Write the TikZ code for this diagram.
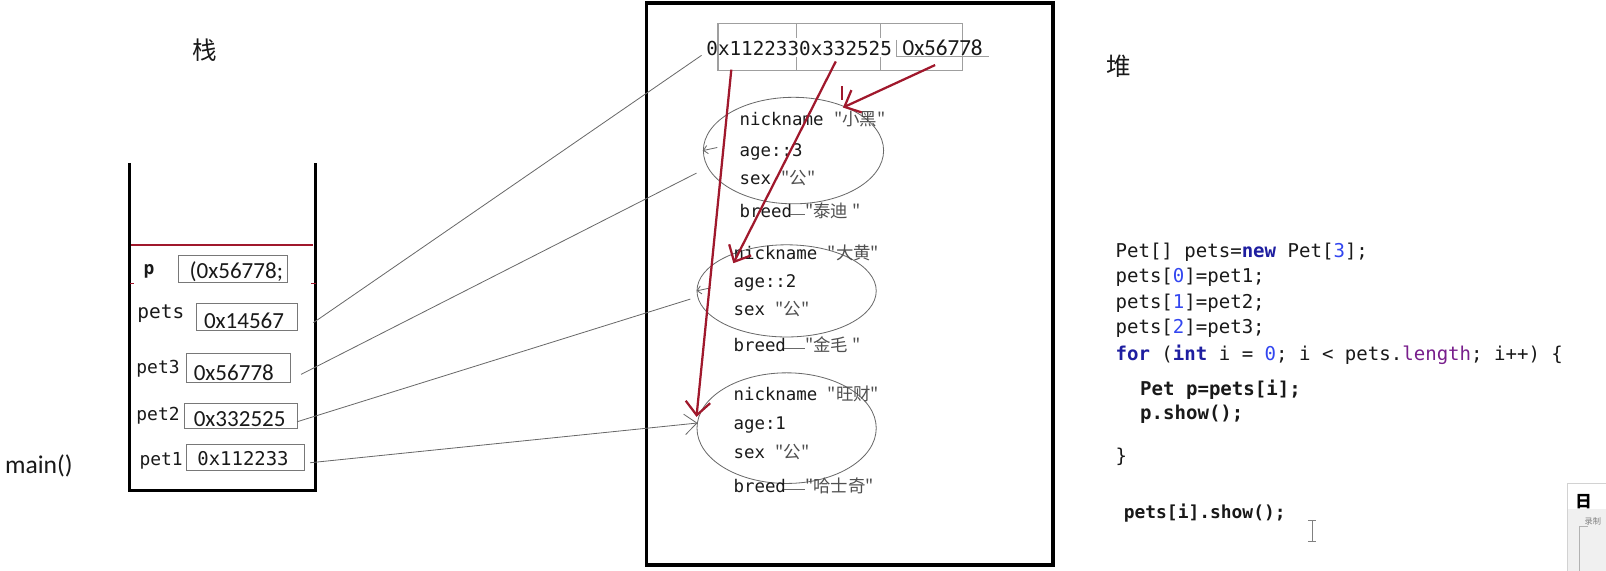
\documentclass[tikz,border=0pt]{standalone}
\usepackage{fontspec}
\setmainfont{Carlito}
\newfontfamily\monof{DejaVu Sans Mono}
\newfontfamily\cjk{Noto Sans CJK SC}
\usetikzlibrary{arrows.meta,shapes.geometric}
\definecolor{arrred}{RGB}{160,24,44}
\definecolor{kwblue}{RGB}{30,30,160}
\definecolor{numblue}{RGB}{50,70,240}
\definecolor{lenpurple}{RGB}{120,30,140}
\definecolor{lgray}{RGB}{105,105,105}
\definecolor{cellgray}{RGB}{120,120,120}
\definecolor{txtdark}{RGB}{25,25,25}
\definecolor{cjkgray}{RGB}{80,80,80}
\tikzset{
  wall/.style={line width=3pt, black},
  cell/.style={draw=cellgray, line width=1pt, inner sep=0pt},
  stk/.style={font=\monof\fontsize{17.5}{17.5}\selectfont, inner sep=0pt, anchor=base west, text=txtdark},
  valsans/.style={font=\fontsize{22.5}{22.5}\selectfont, inner sep=0pt, anchor=base west, text=txtdark},
  valmono/.style={font=\monof\fontsize{18.5}{18.5}\selectfont, inner sep=0pt, anchor=base west, text=txtdark},
  gline/.style={draw=lgray, line width=0.8pt},
  redarr/.style={draw=arrred, line width=2.2pt, -{Straight Barb[length=13pt,width=24pt,line width=2.2pt]}},
  ell/.style={ellipse, draw=lgray, line width=0.8pt, inner sep=0pt},
  htxt/.style={font=\monof\fontsize{17}{17}\selectfont, inner sep=0pt, anchor=base west, text=txtdark},
  code/.style={font=\monof\fontsize{18.6}{18.6}\selectfont, inner sep=0pt, anchor=base west, text=txtdark},
  arrline/.style={draw=gray!75, line width=1.1pt},
  bigcjk/.style={font=\cjk\fontsize{24}{24}\selectfont, inner sep=0pt, text=txtdark},
}
\begin{document}
\begin{tikzpicture}[x=1pt,y=-1pt]
\useasboundingbox (0,0) rectangle (1568,557);

% ---------- titles ----------
\node[bigcjk] (tstack) at (200,49) {栈};
\node[bigcjk] (theap) at (1092,65) {堆};
\node[font=\fontsize{25}{25}\selectfont, inner sep=0pt, text=txtdark] (tmain) at (38,455) {main()};

% ---------- stack ----------
\draw[wall] (126,159) -- (126,479) -- (308,479) -- (308,159);
\draw[arrred, line width=1.5pt] (128,239) -- (306,239);
\draw[arrred, line width=1.5pt] (127,277) -- (131,277) (304,277) -- (309,277);

\node[stk, font=\monof\bfseries\fontsize{17.5}{17.5}\selectfont] (lp) at (140,268) {p};
\node[stk, font=\monof\fontsize{19}{19}\selectfont] (lpets) at (134,311) {pets};
\node[stk] (lpet3) at (133,364.5) {pet3};
\node[stk] (lpet2) at (133,411) {pet2};
\node[stk] (lpet1) at (136,454) {pet1};

\node[cell, minimum width=107pt, minimum height=27pt] (bp) at (227.5,262.5) {};
\node[cell, minimum width=98pt, minimum height=27pt] (bpets) at (241,309.5) {};
\node[cell, minimum width=102pt, minimum height=28pt] (bpet3) at (233,359) {};
\node[cell, minimum width=110pt, minimum height=24pt] (bpet2) at (235,406) {};
\node[cell, minimum width=115pt, minimum height=24.5pt] (bpet1) at (239.5,446.7) {};

\begin{scope}
\clip (174,240) rectangle (281,285);
\node[valsans] (vp) at (185,271.5) {(0x56778;};
\end{scope}
\node[valsans] (vpets) at (199,321) {0x14567};
\node[valsans] (vpet3) at (189,371.5) {0x56778};
\node[valsans] (vpet2) at (189,416.5) {0x332525};
\node[valmono] (vpet1) at (192.5,454) {0x112233};

% ---------- heap ----------
\node[draw, line width=3.5pt, minimum width=397pt, minimum height=549pt, inner sep=0pt] (heap) at (829.5,277.2) {};

% array
\node[draw=gray!75, line width=1.1pt, minimum width=239pt, minimum height=46pt, inner sep=0pt] (arr) at (820.5,46) {};
\draw[arrline] (778,23) -- (778,37) (778,56) -- (778,69);
\draw[arrline] (860,23) -- (860,37) (860,56) -- (860,69);
\node[font=\monof\fontsize{18.8}{18.8}\selectfont, inner sep=0pt, anchor=base west, text=txtdark] (a12) at (689.5,53.7) {0x1122330x332525};
\node[valsans] (a3) at (881,53.7) {0x56778};
\draw[arrline] (875,39) |- (966,55);

% ellipses
\node[ell, minimum width=176pt, minimum height=104pt] (e1) at (774.7,147) {};
\node[ell, minimum width=175pt, minimum height=90pt] (e2) at (768,284) {};
\node[ell, minimum width=175pt, minimum height=108pt] (e3) at (768,418) {};

% object 1
\node[htxt] (n1) at (722,123) {nickname {\cjk\color{cjkgray}"小黑"}};
\node[htxt] (g1) at (722,152.5) {age::3};
\node[htxt] (s1) at (722,180) {sex {\cjk\color{cjkgray}"公"}};
\node[htxt] (bk1) at (722,212.5) {breed};
\node[htxt, font=\cjk\fontsize{17}{17}\selectfont, text=cjkgray] (bv1) at (786,212.5) {"泰迪 "};
% object 2
\node[htxt] (n2) at (716,253) {nickname {\cjk\color{cjkgray}"大黄"}};
\node[htxt] (g2) at (716,280.5) {age::2};
\node[htxt] (s2) at (716,308.5) {sex {\cjk\color{cjkgray}"公"}};
\node[htxt] (bk2) at (716,343) {breed};
\node[htxt, font=\cjk\fontsize{17}{17}\selectfont, text=cjkgray] (bv2) at (786,343) {"金毛 "};
% object 3
\node[htxt] (n3) at (716,391.5) {nickname {\cjk\color{cjkgray}"旺财"}};
\node[htxt] (g3) at (716,419.5) {age:1};
\node[htxt] (s3) at (716,448) {sex {\cjk\color{cjkgray}"公"}};
\node[htxt] (bk3) at (716,481) {breed};
\node[htxt, font=\cjk\fontsize{17}{17}\selectfont, text=cjkgray] (bv3) at (786,481) {"哈士奇"};

\draw[gline] ([xshift=-2pt,yshift=3pt]bk1.base east) -- ([yshift=3pt]bv1.base west);
\draw[gline] ([xshift=-2pt,yshift=3pt]bk2.base east) -- ([yshift=3pt]bv2.base west);
\draw[gline] ([xshift=-2pt,yshift=3pt]bk3.base east) -- ([yshift=3pt]bv3.base west);

% small marks on ellipses
\draw[gline, {Straight Barb[length=4pt,width=8pt]}-] (e1.west) -- ++(14,-3);
\draw[gline, {Straight Barb[length=4pt,width=8pt]}-] (e2.west) -- ++(14,-3);

% ---------- connectors stack -> heap ----------
\coordinate (spets) at (306,315);
\coordinate (spet3) at (294,365.5);
\coordinate (spet2) at (290,411.8);
\coordinate (spet1) at (302.7,451.8);
\coordinate (harr) at (685,54);
\coordinate (he1) at (680,169);
\coordinate (he2) at (674,292);
\coordinate (he3) at (681,413);
\draw[gline] (spets) -- (harr);
\draw[gline] (spet3) -- (he1);
\draw[gline] (spet2) -- (he2);
\draw[gline, -{Straight Barb[length=12pt,width=20pt]}] (spet1) -- (he3);

% ---------- red arrows array -> objects ----------
\coordinate (r1s) at (714,68);
\coordinate (r2s) at (816,60);
\coordinate (r3s) at (913,63.5);
\coordinate (r1e) at (680,407);
\coordinate (r2e) at (716,257);
\coordinate (r3e) at (823,105);
\draw[redarr] (r1s) -- (r1e);
\draw[redarr] (r2s) -- (r2e);
\draw[redarr] (r3s) -- (r3e);
\draw[arrred, line width=2pt] (822,84) -- (822,98);

% ---------- code ----------
\node[code] (c1) at (1089,251) {Pet[] pets=\textcolor{kwblue}{\bfseries new} Pet[\textcolor{numblue}{3}];};
\node[code] (c2) at (1089,276) {pets[\textcolor{numblue}{0}]=pet1;};
\node[code] (c3) at (1089,301) {pets[\textcolor{numblue}{1}]=pet2;};
\node[code] (c4) at (1089,326) {pets[\textcolor{numblue}{2}]=pet3;};
\node[code] (c5) at (1089,351.5) {\textcolor{kwblue}{\bfseries for} (\textcolor{kwblue}{\bfseries int} i = \textcolor{numblue}{0}; i < pets.\textcolor{lenpurple}{length}; i++) \{};
\node[code, font=\monof\bfseries\fontsize{18.6}{18.6}\selectfont] (c6) at (1113,385.7) {Pet p=pets[i];};
\node[code, font=\monof\bfseries\fontsize{18.6}{18.6}\selectfont] (c7) at (1113,410) {p.show();};
\node[code] (c8) at (1089,452) {\}};
\node[code, font=\monof\bfseries\fontsize{17.5}{17.5}\selectfont] (c9) at (1097,506) {pets[i].show();};

% text cursor
\draw[gray, line width=1pt] (1281,508) -- (1281,529) (1277,508) -- (1285,508) (1277,529) -- (1285,529);

% ---------- window fragment ----------
\fill[white] (1530,472) rectangle (1568,557);
\fill[gray!12] (1531,497) rectangle (1568,557);
\draw[gray!35, line width=1pt] (1530,557) -- (1530,472) -- (1568,472);
\node[font=\cjk\bfseries\fontsize{16}{16}\selectfont, inner sep=0pt, text=black] (wicon) at (1546,490) {日};
\node[font=\cjk\fontsize{8}{8}\selectfont, inner sep=0pt, anchor=west, text=gray] (wtxt) at (1547,509) {录制};
\draw[gray!60, line width=0.8pt] (1550,514) -- (1542,514) -- (1542,557);
\end{tikzpicture}
\end{document}
